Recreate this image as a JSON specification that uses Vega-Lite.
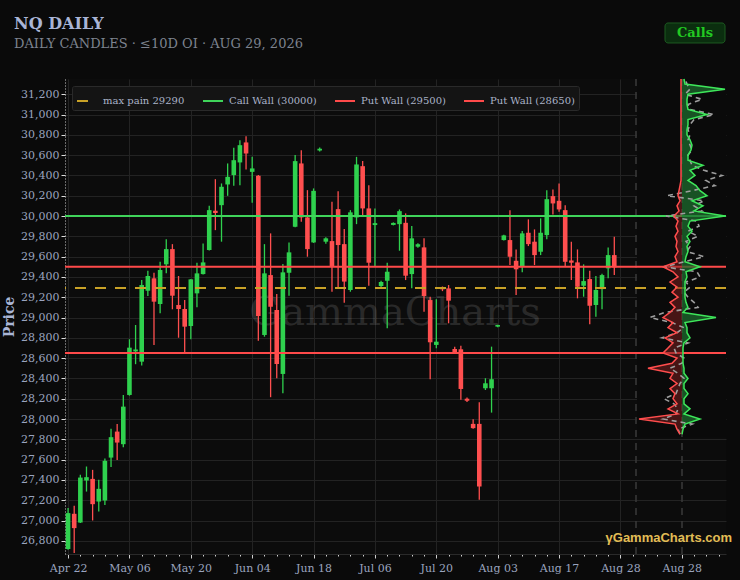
{
  "$schema": "https://vega.github.io/schema/vega-lite/v6.json",
  "description": "NQ daily candles with gamma walls and strike profile",
  "width": 661,
  "height": 475,
  "autosize": {"type": "none"},
  "padding": {"left": 65, "top": 79, "right": 14, "bottom": 26},
  "background": "#0a0a0a",
  "config": {
    "view": {"stroke": null, "fill": "#0c0c0c"},
    "font": "DejaVu Serif",
    "numberFormat": ",",
    "axis": {"labelOverlap": false, "labelFlush": false},
    "legend": {
      "orient": "top-left",
      "direction": "horizontal",
      "offset": 7,
      "fillColor": "#141414",
      "strokeColor": "#2a2a2a",
      "padding": 4,
      "cornerRadius": 2,
      "labelFont": "DejaVu Serif",
      "labelFontSize": 10,
      "labelColor": "#aab3c8",
      "symbolType": "stroke",
      "symbolSize": 400,
      "symbolStrokeWidth": 2,
      "columnPadding": 14,
      "labelOffset": 5
    }
  },
  "datasets": {
    "candles": [
      {"i": 0, "date": "2026-04-22", "o": 26719, "h": 27122, "l": 26712, "c": 27073},
      {"i": 1, "date": "2026-04-23", "o": 27066, "h": 27145, "l": 26680, "c": 26925},
      {"i": 2, "date": "2026-04-24", "o": 26980, "h": 27450, "l": 26975, "c": 27423},
      {"i": 3, "date": "2026-04-27", "o": 27394, "h": 27532, "l": 27285, "c": 27427},
      {"i": 4, "date": "2026-04-28", "o": 27410, "h": 27499, "l": 27000, "c": 27161},
      {"i": 5, "date": "2026-04-29", "o": 27187, "h": 27401, "l": 27089, "c": 27312},
      {"i": 6, "date": "2026-04-30", "o": 27197, "h": 27610, "l": 27154, "c": 27588},
      {"i": 7, "date": "2026-05-01", "o": 27620, "h": 27903, "l": 27526, "c": 27821},
      {"i": 8, "date": "2026-05-04", "o": 27876, "h": 27952, "l": 27597, "c": 27768},
      {"i": 9, "date": "2026-05-05", "o": 27752, "h": 28237, "l": 27722, "c": 28122},
      {"i": 10, "date": "2026-05-06", "o": 28237, "h": 28786, "l": 28230, "c": 28703},
      {"i": 11, "date": "2026-05-07", "o": 28666, "h": 28926, "l": 28540, "c": 28685},
      {"i": 12, "date": "2026-05-08", "o": 28565, "h": 29369, "l": 28526, "c": 29320},
      {"i": 13, "date": "2026-05-11", "o": 29264, "h": 29461, "l": 29212, "c": 29409},
      {"i": 14, "date": "2026-05-12", "o": 29386, "h": 29441, "l": 28729, "c": 29156},
      {"i": 15, "date": "2026-05-13", "o": 29133, "h": 29549, "l": 29041, "c": 29468},
      {"i": 16, "date": "2026-05-14", "o": 29524, "h": 29770, "l": 29435, "c": 29674},
      {"i": 17, "date": "2026-05-15", "o": 29674, "h": 29723, "l": 29081, "c": 29215},
      {"i": 18, "date": "2026-05-18", "o": 29123, "h": 29409, "l": 28801, "c": 29084},
      {"i": 19, "date": "2026-05-19", "o": 29084, "h": 29172, "l": 28654, "c": 28910},
      {"i": 20, "date": "2026-05-20", "o": 28916, "h": 29380, "l": 28786, "c": 29376},
      {"i": 21, "date": "2026-05-21", "o": 29238, "h": 29540, "l": 29100, "c": 29435},
      {"i": 22, "date": "2026-05-22", "o": 29428, "h": 29730, "l": 29425, "c": 29543},
      {"i": 23, "date": "2026-05-26", "o": 29665, "h": 30101, "l": 29660, "c": 30058},
      {"i": 24, "date": "2026-05-27", "o": 30052, "h": 30363, "l": 29861, "c": 30030},
      {"i": 25, "date": "2026-05-28", "o": 30107, "h": 30321, "l": 29747, "c": 30288},
      {"i": 26, "date": "2026-05-29", "o": 30311, "h": 30518, "l": 30199, "c": 30386},
      {"i": 27, "date": "2026-06-01", "o": 30403, "h": 30672, "l": 30298, "c": 30550},
      {"i": 28, "date": "2026-06-02", "o": 30528, "h": 30747, "l": 30304, "c": 30698},
      {"i": 29, "date": "2026-06-03", "o": 30725, "h": 30787, "l": 30459, "c": 30616},
      {"i": 30, "date": "2026-06-04", "o": 30435, "h": 30583, "l": 30130, "c": 30469},
      {"i": 31, "date": "2026-06-05", "o": 30396, "h": 30403, "l": 28772, "c": 29015},
      {"i": 32, "date": "2026-06-08", "o": 28828, "h": 29723, "l": 28811, "c": 29435},
      {"i": 33, "date": "2026-06-09", "o": 29418, "h": 29829, "l": 28215, "c": 29106},
      {"i": 34, "date": "2026-06-10", "o": 29074, "h": 29231, "l": 28402, "c": 28542},
      {"i": 35, "date": "2026-06-11", "o": 28444, "h": 29527, "l": 28254, "c": 29445},
      {"i": 36, "date": "2026-06-12", "o": 29441, "h": 29740, "l": 29215, "c": 29642},
      {"i": 37, "date": "2026-06-15", "o": 29894, "h": 30600, "l": 29890, "c": 30541},
      {"i": 38, "date": "2026-06-16", "o": 30518, "h": 30649, "l": 29943, "c": 29986},
      {"i": 39, "date": "2026-06-17", "o": 29986, "h": 30255, "l": 29599, "c": 29674},
      {"i": 40, "date": "2026-06-18", "o": 29740, "h": 30272, "l": 29735, "c": 30248},
      {"i": 41, "date": "2026-06-22", "o": 30645, "h": 30675, "l": 30636, "c": 30662},
      {"i": 42, "date": "2026-06-23", "o": 29747, "h": 29792, "l": 29728, "c": 29780},
      {"i": 43, "date": "2026-06-24", "o": 29753, "h": 30140, "l": 29254, "c": 29500},
      {"i": 44, "date": "2026-06-25", "o": 30068, "h": 30245, "l": 29288, "c": 29714},
      {"i": 45, "date": "2026-06-26", "o": 29723, "h": 29871, "l": 29146, "c": 29354},
      {"i": 46, "date": "2026-06-29", "o": 29271, "h": 30058, "l": 29254, "c": 30036},
      {"i": 47, "date": "2026-06-30", "o": 29986, "h": 30583, "l": 29920, "c": 30508},
      {"i": 48, "date": "2026-07-01", "o": 30491, "h": 30541, "l": 29992, "c": 30075},
      {"i": 49, "date": "2026-07-02", "o": 30075, "h": 30304, "l": 29313, "c": 29540},
      {"i": 50, "date": "2026-07-06", "o": 29911, "h": 30075, "l": 29507, "c": 29930},
      {"i": 51, "date": "2026-07-07", "o": 29310, "h": 29363, "l": 29300, "c": 29350},
      {"i": 52, "date": "2026-07-08", "o": 29362, "h": 29540, "l": 28894, "c": 29451},
      {"i": 53, "date": "2026-07-09", "o": 29912, "h": 29937, "l": 29908, "c": 29932},
      {"i": 54, "date": "2026-07-10", "o": 29920, "h": 30065, "l": 29658, "c": 30048},
      {"i": 55, "date": "2026-07-13", "o": 29933, "h": 30026, "l": 29369, "c": 29412},
      {"i": 56, "date": "2026-07-14", "o": 29428, "h": 29901, "l": 29288, "c": 29780},
      {"i": 57, "date": "2026-07-15", "o": 29698, "h": 29732, "l": 29688, "c": 29722},
      {"i": 58, "date": "2026-07-16", "o": 29691, "h": 29780, "l": 29057, "c": 29212},
      {"i": 59, "date": "2026-07-17", "o": 29172, "h": 29205, "l": 28392, "c": 28756},
      {"i": 60, "date": "2026-07-20", "o": 28730, "h": 29179, "l": 28697, "c": 28762},
      {"i": 61, "date": "2026-07-21", "o": 29300, "h": 29306, "l": 29260, "c": 29278},
      {"i": 62, "date": "2026-07-22", "o": 29287, "h": 29320, "l": 28943, "c": 29166},
      {"i": 63, "date": "2026-07-23", "o": 28690, "h": 28712, "l": 28640, "c": 28648},
      {"i": 64, "date": "2026-07-24", "o": 28687, "h": 28723, "l": 28191, "c": 28296},
      {"i": 65, "date": "2026-07-27", "o": 28200, "h": 28213, "l": 28168, "c": 28180},
      {"i": 66, "date": "2026-07-28", "o": 27952, "h": 27998, "l": 27905, "c": 27910},
      {"i": 67, "date": "2026-07-29", "o": 27952, "h": 28165, "l": 27204, "c": 27335},
      {"i": 68, "date": "2026-07-30", "o": 28303, "h": 28402, "l": 28286, "c": 28352},
      {"i": 69, "date": "2026-07-31", "o": 28303, "h": 28713, "l": 28063, "c": 28392},
      {"i": 70, "date": "2026-08-03", "o": 28910, "h": 28929, "l": 28903, "c": 28926},
      {"i": 71, "date": "2026-08-04", "o": 29763, "h": 29816, "l": 29758, "c": 29809},
      {"i": 72, "date": "2026-08-05", "o": 29763, "h": 30058, "l": 29517, "c": 29599},
      {"i": 73, "date": "2026-08-06", "o": 29559, "h": 29671, "l": 29221, "c": 29475},
      {"i": 74, "date": "2026-08-07", "o": 29500, "h": 29852, "l": 29445, "c": 29829},
      {"i": 75, "date": "2026-08-10", "o": 29835, "h": 29967, "l": 29704, "c": 29723},
      {"i": 76, "date": "2026-08-11", "o": 29747, "h": 29868, "l": 29517, "c": 29615},
      {"i": 77, "date": "2026-08-12", "o": 29648, "h": 29977, "l": 29615, "c": 29835},
      {"i": 78, "date": "2026-08-13", "o": 29812, "h": 30255, "l": 29770, "c": 30166},
      {"i": 79, "date": "2026-08-14", "o": 30196, "h": 30262, "l": 30016, "c": 30124},
      {"i": 80, "date": "2026-08-17", "o": 30150, "h": 30321, "l": 30042, "c": 30065},
      {"i": 81, "date": "2026-08-18", "o": 30058, "h": 30107, "l": 29500, "c": 29549},
      {"i": 82, "date": "2026-08-19", "o": 29562, "h": 29747, "l": 29369, "c": 29540},
      {"i": 83, "date": "2026-08-20", "o": 29543, "h": 29671, "l": 29189, "c": 29303},
      {"i": 84, "date": "2026-08-21", "o": 29313, "h": 29524, "l": 29205, "c": 29359},
      {"i": 85, "date": "2026-08-24", "o": 29379, "h": 29461, "l": 28933, "c": 29116},
      {"i": 86, "date": "2026-08-25", "o": 29123, "h": 29409, "l": 29008, "c": 29271},
      {"i": 87, "date": "2026-08-26", "o": 29280, "h": 29430, "l": 29081, "c": 29418},
      {"i": 88, "date": "2026-08-27", "o": 29484, "h": 29691, "l": 29386, "c": 29615},
      {"i": 89, "date": "2026-08-28", "o": 29615, "h": 29796, "l": 29418, "c": 29494}
    ],
    "walls": [
      {"label": "max pain 29290", "price": 29290},
      {"label": "Call Wall (30000)", "price": 30000},
      {"label": "Put Wall (29500)", "price": 29500},
      {"label": "Put Wall (28650)", "price": 28650}
    ],
    "profile": [
      {"strike": 31350, "call": 4, "put": -2, "prev": 6},
      {"strike": 31300, "call": 6, "put": -2, "prev": 10},
      {"strike": 31250, "call": 86, "put": -2, "prev": 16},
      {"strike": 31200, "call": 12, "put": -2, "prev": 6},
      {"strike": 31150, "call": 10, "put": -2, "prev": 40},
      {"strike": 31100, "call": 10, "put": -2, "prev": 12},
      {"strike": 31050, "call": 12, "put": -2, "prev": 16},
      {"strike": 31000, "call": 50, "put": -2, "prev": 64},
      {"strike": 30950, "call": 12, "put": -2, "prev": 24},
      {"strike": 30900, "call": 12, "put": -2, "prev": 16},
      {"strike": 30850, "call": 10, "put": -2, "prev": 12},
      {"strike": 30800, "call": 10, "put": -2, "prev": 16},
      {"strike": 30750, "call": 16, "put": -2, "prev": 12},
      {"strike": 30700, "call": 20, "put": -2, "prev": 16},
      {"strike": 30650, "call": 18, "put": -2, "prev": 20},
      {"strike": 30600, "call": 12, "put": -2, "prev": 12},
      {"strike": 30550, "call": 12, "put": -2, "prev": 16},
      {"strike": 30500, "call": 42, "put": -2, "prev": 20},
      {"strike": 30450, "call": 16, "put": -2, "prev": 44},
      {"strike": 30400, "call": 26, "put": -2, "prev": 80},
      {"strike": 30350, "call": 12, "put": -2, "prev": 48},
      {"strike": 30300, "call": 28, "put": -4, "prev": 66},
      {"strike": 30250, "call": 36, "put": -6, "prev": 20},
      {"strike": 30200, "call": 50, "put": -8, "prev": -30},
      {"strike": 30150, "call": 20, "put": -4, "prev": 44},
      {"strike": 30100, "call": 42, "put": -10, "prev": 24},
      {"strike": 30050, "call": 24, "put": -6, "prev": 40},
      {"strike": 30000, "call": 86, "put": -16, "prev": -32},
      {"strike": 29950, "call": 16, "put": -8, "prev": 30},
      {"strike": 29900, "call": 12, "put": -12, "prev": 34},
      {"strike": 29850, "call": 20, "put": -8, "prev": 12},
      {"strike": 29800, "call": 10, "put": -14, "prev": 32},
      {"strike": 29750, "call": 16, "put": -10, "prev": 8},
      {"strike": 29700, "call": 10, "put": -12, "prev": 16},
      {"strike": 29650, "call": 12, "put": -8, "prev": 10},
      {"strike": 29600, "call": 8, "put": -14, "prev": 44},
      {"strike": 29550, "call": 6, "put": -10, "prev": 6},
      {"strike": 29500, "call": 36, "put": -38, "prev": -36},
      {"strike": 29450, "call": 8, "put": -18, "prev": 30},
      {"strike": 29400, "call": 10, "put": -8, "prev": 36},
      {"strike": 29350, "call": 6, "put": -24, "prev": 8},
      {"strike": 29300, "call": 6, "put": -10, "prev": 16},
      {"strike": 29250, "call": 6, "put": -20, "prev": 4},
      {"strike": 29200, "call": 6, "put": -8, "prev": 12},
      {"strike": 29150, "call": 8, "put": -24, "prev": 24},
      {"strike": 29100, "call": 12, "put": -14, "prev": 32},
      {"strike": 29050, "call": 2, "put": -24, "prev": -34},
      {"strike": 29000, "call": 68, "put": -38, "prev": -64},
      {"strike": 28950, "call": 6, "put": -18, "prev": -20},
      {"strike": 28900, "call": 10, "put": -28, "prev": 4},
      {"strike": 28850, "call": 10, "put": -10, "prev": -10},
      {"strike": 28800, "call": 16, "put": -34, "prev": -40},
      {"strike": 28750, "call": 4, "put": -18, "prev": 12},
      {"strike": 28700, "call": 2, "put": -28, "prev": -16},
      {"strike": 28650, "call": 2, "put": -38, "prev": -12},
      {"strike": 28600, "call": 2, "put": -10, "prev": 4},
      {"strike": 28550, "call": 2, "put": -20, "prev": 0},
      {"strike": 28500, "call": 4, "put": -68, "prev": -24},
      {"strike": 28450, "call": 4, "put": -18, "prev": -8},
      {"strike": 28400, "call": 12, "put": -24, "prev": 4},
      {"strike": 28350, "call": 4, "put": -10, "prev": -4},
      {"strike": 28300, "call": 4, "put": -24, "prev": -8},
      {"strike": 28250, "call": 12, "put": -14, "prev": -12},
      {"strike": 28200, "call": 4, "put": -18, "prev": -36},
      {"strike": 28150, "call": 4, "put": -10, "prev": -16},
      {"strike": 28100, "call": 16, "put": -28, "prev": -8},
      {"strike": 28050, "call": 4, "put": -8, "prev": -12},
      {"strike": 28000, "call": 36, "put": -86, "prev": -38},
      {"strike": 27950, "call": 6, "put": -14, "prev": 20},
      {"strike": 27900, "call": 2, "put": -10, "prev": -8},
      {"strike": 27850, "call": 0, "put": -4, "prev": -4}
    ]
  },
  "layer": [
    {
      "data": {"values": [{}]},
      "mark": {"type": "text", "text": "GammaCharts", "font": "DejaVu Serif", "fontSize": 40, "color": "#d0d0d0", "opacity": 0.15, "baseline": "middle", "align": "center"},
      "encoding": {
        "x": {"datum": -574, "type": "quantitative", "scale": {"domain": [-1234, 88], "nice": false, "zero": false}, "axis": null},
        "y": {"datum": 29044, "type": "quantitative", "scale": {"domain": [26670, 31350], "nice": false, "zero": false}, "axis": null}
      }
    },
    {
      "layer": [
        {
          "data": {"name": "candles"},
          "mark": {"type": "rule", "strokeWidth": 1.3},
          "encoding": {
            "x": {
              "field": "i", "type": "quantitative",
              "scale": {"domain": [-0.5, 107.2], "nice": false, "zero": false, "padding": 0},
              "axis": {
                "values": [0, 2, 4, 6, 8, 10, 12, 14, 16, 18, 20, 22, 24, 26, 28, 30, 32, 34, 36, 38, 40, 42, 44, 46, 48, 50, 52, 54, 56, 58, 60, 62, 64, 66, 68, 70, 72, 74, 76, 78, 80, 82, 84, 86, 88, 90, 92, 94, 96, 98, 100, 102, 104, 106],
                "tickCount": 200,
                "labelExpr": "datum.value == 0 ? 'Apr 22' : datum.value == 10 ? 'May 06' : datum.value == 20 ? 'May 20' : datum.value == 30 ? 'Jun 04' : datum.value == 40 ? 'Jun 18' : datum.value == 50 ? 'Jul 06' : datum.value == 60 ? 'Jul 20' : datum.value == 70 ? 'Aug 03' : datum.value == 80 ? 'Aug 17' : datum.value == 90 ? 'Aug 28' : datum.value == 100 ? 'Aug 28' : ''",
                "title": null,
                "grid": true,
                "gridColor": "#232323",
                "gridOpacity": {"condition": {"test": "datum.value % 10 === 0 && datum.value <= 90", "value": 1}, "value": 0},
                "domainColor": "#2a2a2a",
                "tickColor": "#cfcfcf",
                "tickSize": {"condition": {"test": "datum.value % 10 === 0", "value": 4}, "value": 2},
                "labelFont": "DejaVu Serif",
                "labelFontSize": 11,
                "labelColor": "#9aa4bf",
                "labelPadding": 4,
                "labelFlush": false,
                "labelOverlap": false
              }
            },
            "y": {
              "field": "l", "type": "quantitative",
              "scale": {"domain": [26670, 31350], "nice": false, "zero": false},
              "axis": {
                "values": [26800, 27000, 27200, 27400, 27600, 27800, 28000, 28200, 28400, 28600, 28800, 29000, 29200, 29400, 29600, 29800, 30000, 30200, 30400, 30600, 30800, 31000, 31200],
                "tickCount": 100,
                "labelExpr": "format(datum.value, ',')",
                "title": "Price",
                "titleFont": "DejaVu Serif",
                "titleFontSize": 14,
                "titleFontWeight": "bold",
                "titleColor": "#a9b5d6",
                "titlePadding": 4,
                "grid": true,
                "gridColor": "#232323",
                "domainColor": "#c8c8c8",
                "domainDash": [1, 2],
                "tickColor": "#dddddd",
                "tickSize": 4,
                "labelFont": "DejaVu Serif",
                "labelFontSize": 11,
                "labelColor": "#9aa4bf",
                "labelPadding": 2,
                "labelOverlap": false
              }
            },
            "y2": {"field": "h"},
            "color": {"condition": {"test": "datum.c >= datum.o", "value": "#2fd14e"}, "value": "#ff4f4f"}
          }
        },
        {
          "data": {"name": "candles"},
          "mark": {"type": "bar", "size": 4.6},
          "encoding": {
            "x": {"field": "i", "type": "quantitative"},
            "y": {"field": "o", "type": "quantitative"},
            "y2": {"field": "c"},
            "color": {"condition": {"test": "datum.c >= datum.o", "value": "#2fd14e"}, "value": "#ff4f4f"}
          }
        }
      ]
    },
    {
      "layer": [
        {
          "data": {"values": [{}]},
          "mark": {"type": "rect", "color": "#0a0a0a"},
          "encoding": {
            "x": {"datum": -90, "type": "quantitative", "scale": {"domain": [-1234, 88], "nice": false, "zero": false}, "axis": null},
            "x2": {"datum": 88},
            "y": {"datum": 31350, "type": "quantitative", "scale": {"domain": [26670, 31350], "nice": false, "zero": false}, "axis": null},
            "y2": {"datum": 27820}
          }
        },
        {
          "data": {"values": [{}]},
          "mark": {"type": "rule", "color": "#3a3a3a", "strokeWidth": 1.5, "strokeDash": [7, 6]},
          "encoding": {"x": {"datum": -92, "type": "quantitative", "axis": null}}
        },
        {
          "data": {"values": [{}]},
          "mark": {"type": "rule", "color": "#3a3a3a", "strokeWidth": 1.5, "strokeDash": [7, 6]},
          "encoding": {"x": {"datum": 0, "type": "quantitative", "axis": null}}
        },
        {
          "data": {"name": "walls"},
          "mark": {"type": "rule", "strokeWidth": 2},
          "encoding": {
            "y": {"field": "price", "type": "quantitative", "axis": null},
            "color": {
              "field": "label", "type": "nominal", "title": null,
              "scale": {
                "domain": ["max pain 29290", "Call Wall (30000)", "Put Wall (29500)", "Put Wall (28650)"],
                "range": ["#c9a227", "#3fd45a", "#ff4a4a", "#ff4a4a"]
              }
            },
            "strokeDash": {
              "field": "label", "type": "nominal", "title": null,
              "scale": {
                "domain": ["max pain 29290", "Call Wall (30000)", "Put Wall (29500)", "Put Wall (28650)"],
                "range": [[11, 9], [1, 0], [1, 0], [1, 0]]
              }
            }
          }
        },
        {
          "data": {"name": "profile"},
          "mark": {"type": "area", "orient": "horizontal", "color": "#1d6b2e", "opacity": 0.75},
          "encoding": {
            "x": {"field": "call", "type": "quantitative", "axis": null},
            "x2": {"datum": 0},
            "y": {"field": "strike", "type": "quantitative", "axis": null}
          }
        },
        {
          "data": {"name": "profile"},
          "mark": {"type": "area", "orient": "horizontal", "color": "#7a1f1f", "opacity": 0.55},
          "encoding": {
            "x": {"field": "put", "type": "quantitative", "axis": null},
            "x2": {"datum": 0},
            "y": {"field": "strike", "type": "quantitative", "axis": null}
          }
        },
        {
          "data": {"name": "profile"},
          "mark": {"type": "line", "color": "#9e9e9e", "strokeWidth": 1.6, "strokeDash": [5, 4]},
          "encoding": {
            "x": {"field": "prev", "type": "quantitative", "axis": null},
            "y": {"field": "strike", "type": "quantitative", "axis": null},
            "order": {"field": "strike", "type": "quantitative"}
          }
        },
        {
          "data": {"name": "profile"},
          "mark": {"type": "line", "color": "#ff4d4d", "strokeWidth": 1.5},
          "encoding": {
            "x": {"field": "put", "type": "quantitative", "axis": null},
            "y": {"field": "strike", "type": "quantitative", "axis": null},
            "order": {"field": "strike", "type": "quantitative"}
          }
        },
        {
          "data": {"name": "profile"},
          "mark": {"type": "line", "color": "#3ee65a", "strokeWidth": 1.5},
          "encoding": {
            "x": {"field": "call", "type": "quantitative", "axis": null},
            "y": {"field": "strike", "type": "quantitative", "axis": null},
            "order": {"field": "strike", "type": "quantitative"}
          }
        },
        {
          "data": {"values": [{}]},
          "mark": {"type": "text", "text": "NQ DAILY", "font": "DejaVu Serif", "fontWeight": "bold", "fontSize": 16, "color": "#a9b5d6", "align": "left", "baseline": "alphabetic"},
          "encoding": {
            "x": {"datum": -1336, "type": "quantitative", "axis": null},
            "y": {"datum": 31843, "type": "quantitative", "axis": null}
          }
        },
        {
          "data": {"values": [{}]},
          "mark": {"type": "text", "text": "DAILY CANDLES · ≤10D OI · AUG 29, 2026", "font": "DejaVu Serif", "fontSize": 13, "color": "#7d838f", "align": "left", "baseline": "alphabetic"},
          "encoding": {
            "x": {"datum": -1336, "type": "quantitative", "axis": null},
            "y": {"datum": 31655, "type": "quantitative", "axis": null}
          }
        },
        {
          "data": {"values": [{}]},
          "mark": {"type": "rect", "color": "#0b2e0f", "stroke": "#1d5a21", "strokeWidth": 1, "cornerRadius": 3},
          "encoding": {
            "x": {"datum": -34, "type": "quantitative", "axis": null},
            "x2": {"datum": 86},
            "y": {"datum": 31902, "type": "quantitative", "axis": null},
            "y2": {"datum": 31705}
          }
        },
        {
          "data": {"values": [{}]},
          "mark": {"type": "text", "text": "Calls", "font": "DejaVu Serif", "fontWeight": "bold", "fontSize": 13, "color": "#22c922", "align": "center", "baseline": "middle"},
          "encoding": {
            "x": {"datum": 26, "type": "quantitative", "axis": null},
            "y": {"datum": 31800, "type": "quantitative", "axis": null}
          }
        },
        {
          "data": {"values": [{}]},
          "mark": {"type": "text", "text": "γGammaCharts.com", "font": "Liberation Sans", "fontWeight": "bold", "fontSize": 13, "color": "#e2bd55", "align": "right", "baseline": "middle"},
          "encoding": {
            "x": {"datum": 100, "type": "quantitative", "axis": null},
            "y": {"datum": 26827, "type": "quantitative", "axis": null}
          }
        }
      ]
    }
  ],
  "resolve": {"scale": {"x": "independent", "y": "independent"}}
}
